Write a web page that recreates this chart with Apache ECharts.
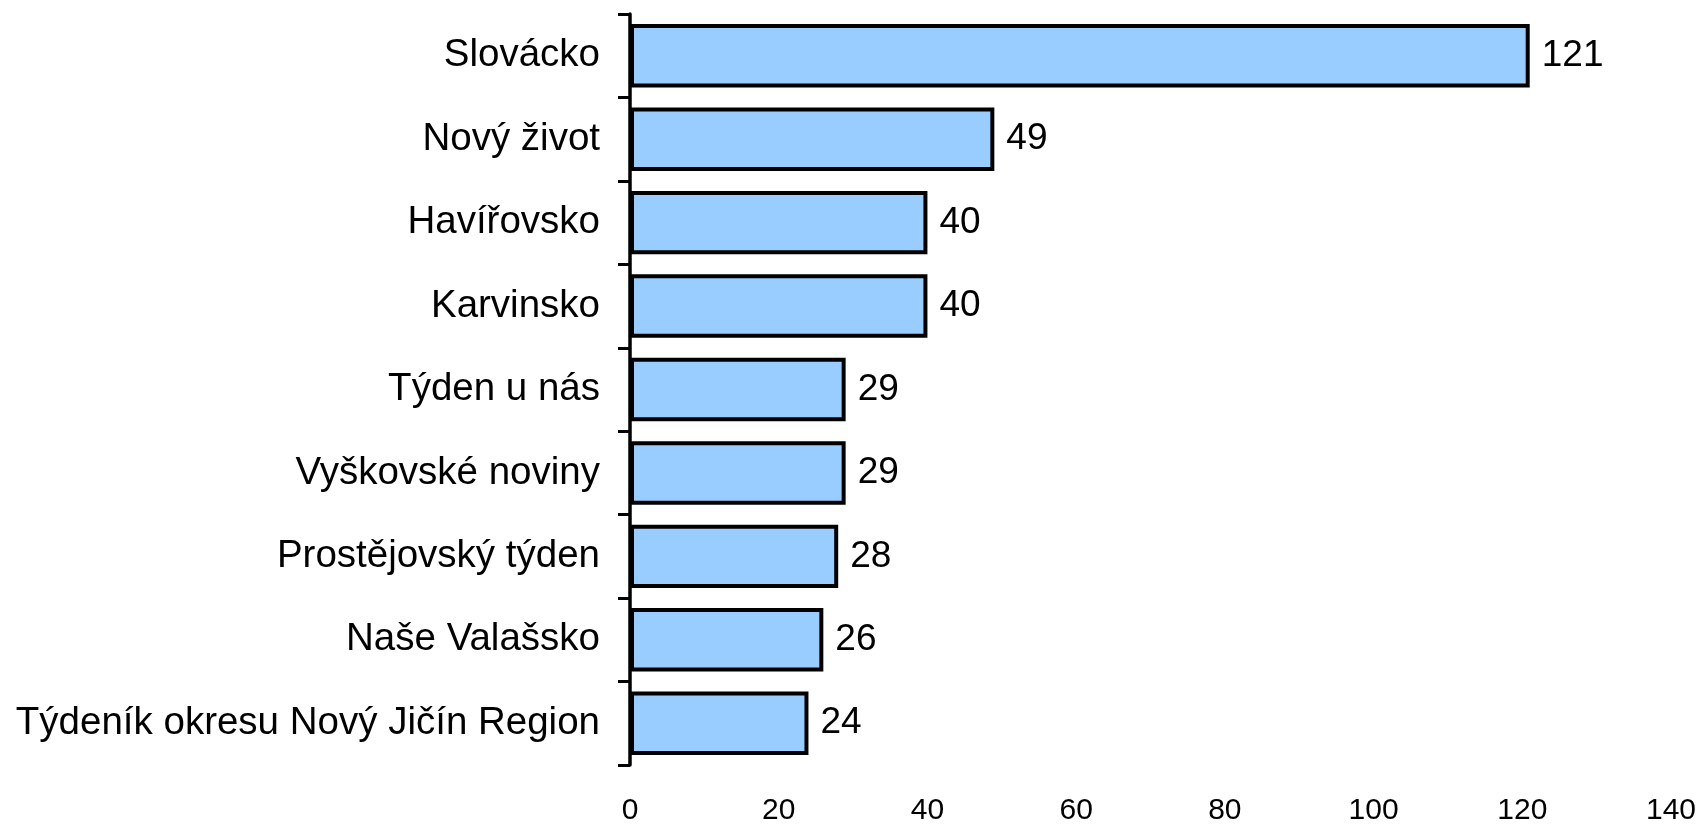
<!DOCTYPE html>
<html>
<head>
<meta charset="utf-8">
<script src="https://cdn.jsdelivr.net/npm/echarts@6/dist/echarts.min.js"></script>
<style>
html,body{margin:0;padding:0;background:#fff;}
#chart{width:1703px;height:826px;}
</style>
</head>
<body>
<div id="chart"></div>
<script>
const categories = ["Slovácko","Nový život","Havířovsko","Karvinsko","Týden u nás","Vyškovské noviny","Prostějovský týden","Naše Valašsko","Týdeník okresu Nový Jičín Region"];
const values = [121,49,40,40,29,29,28,26,24];
const xTicks = {min:0, max:140, interval:20};

const font = '"Liberation Sans", Arial, sans-serif';
const chart = echarts.init(document.getElementById('chart'), null, {renderer:'canvas'});
chart.setOption({
  animation:false,
  backgroundColor:'#ffffff',
  grid:{left:630, right:32, top:14, bottom:59, containLabel:false},
  xAxis:{
    type:'value', min:xTicks.min, max:xTicks.max, interval:xTicks.interval,
    axisLine:{show:false}, axisTick:{show:false}, splitLine:{show:false},
    axisLabel:{color:'#000', fontSize:30, fontFamily:font, margin:31}
  },
  yAxis:{
    type:'category', data:categories, inverse:true,
    axisLine:{show:true, lineStyle:{color:'#000', width:3.5}},
    axisTick:{show:true, length:12, lineStyle:{color:'#000', width:3}},
    axisLabel:{color:'#000', fontSize:38.5, fontFamily:font, margin:30}
  },
  series:[{
    type:'bar', data:values, barCategoryGap:'24%',
    itemStyle:{color:'#99CCFF', borderColor:'#000', borderWidth:4},
    label:{show:true, position:'right', distance:12, color:'#000', fontSize:37, fontFamily:font}
  }]
});
</script>
</body>
</html>
